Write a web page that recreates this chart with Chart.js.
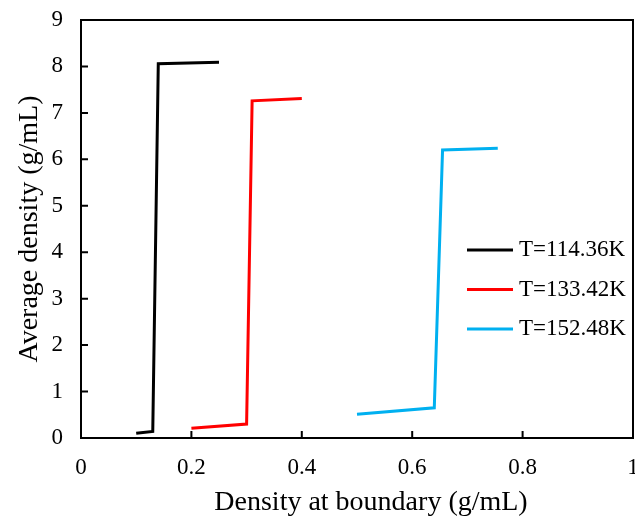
<!DOCTYPE html>
<html>
<head>
<meta charset="utf-8">
<script src="https://cdn.jsdelivr.net/npm/chart.js@4"></script>
<style>
  html, body { margin: 0; padding: 0; background: #fff; }
  #wrap { width: 635px; height: 521px; }
</style>
</head>
<body>
<div id="wrap"><canvas id="densityChart" width="635" height="521"></canvas></div>
<script>
// series: density at boundary (x) vs average density (y)
const seriesLabels = ['T=114.36K', 'T=133.42K', 'T=152.48K'];
const seriesColors = ['#000000', '#ff0000', '#00b0f0'];
const xT114 = [0.10, 0.13, 0.14, 0.25];
const yT114 = [0.10, 0.14, 8.06, 8.09];
const xT133 = [0.20, 0.30, 0.31, 0.40];
const yT133 = [0.21, 0.30, 7.26, 7.31];
const xT152 = [0.50, 0.64, 0.655, 0.755];
const yT152 = [0.51, 0.65, 6.20, 6.24];
const xTicks = [0, 0.2, 0.4, 0.6, 0.8, 1];
const yTicks = [0, 1, 2, 3, 4, 5, 6, 7, 8, 9];
const xTitle = 'Density at boundary (g/mL)';
const yTitle = 'Average density (g/mL)';

const serif = "'Liberation Serif', 'Times New Roman', serif";

function toPoints(xs, ys) {
    return xs.map(function (x, i) { return { x: x, y: ys[i] }; });
}

const allX = [xT114, xT133, xT152];
const allY = [yT114, yT133, yT152];

// frame, inward ticks, x title and legend inside the plot
const framePlugin = {
    id: 'frame',
    afterDraw: function (chart) {
        const ctx = chart.ctx;
        const a = chart.chartArea;
        const xs = chart.scales.x;
        const ys = chart.scales.y;
        ctx.save();
        ctx.strokeStyle = '#000';
        ctx.lineWidth = 2;
        ctx.strokeRect(a.left, a.top, a.right - a.left, a.bottom - a.top);
        ctx.beginPath();
        xTicks.forEach(function (v) {
            const px = xs.getPixelForValue(v);
            ctx.moveTo(px, a.bottom);
            ctx.lineTo(px, a.bottom - 7);
        });
        yTicks.forEach(function (v) {
            const py = ys.getPixelForValue(v);
            ctx.moveTo(a.left, py);
            ctx.lineTo(a.left + 7, py);
        });
        ctx.stroke();

        // x axis title, a bit right of centre as in the figure
        ctx.fillStyle = '#000';
        ctx.font = '28px ' + serif;
        ctx.textAlign = 'center';
        ctx.textBaseline = 'middle';
        ctx.fillText(xTitle, 371, 503);

        // legend
        ctx.font = '23px ' + serif;
        ctx.textAlign = 'left';
        ctx.lineWidth = 3;
        seriesLabels.forEach(function (lab, i) {
            const y = 250 + i * 39.5;
            ctx.strokeStyle = seriesColors[i];
            ctx.beginPath();
            ctx.moveTo(467, y);
            ctx.lineTo(513, y);
            ctx.stroke();
            ctx.fillText(lab, 519, y);
        });
        ctx.restore();
    }
};

new Chart(document.getElementById('densityChart').getContext('2d'), {
    type: 'scatter',
    data: {
        datasets: seriesLabels.map(function (lab, i) {
            return {
                label: lab,
                data: toPoints(allX[i], allY[i]),
                showLine: true,
                borderColor: seriesColors[i],
                backgroundColor: seriesColors[i],
                borderWidth: 3,
                pointRadius: 0,
                tension: 0
            };
        })
    },
    options: {
        responsive: false,
        animation: false,
        layout: { padding: { top: 20, right: 2, bottom: 0, left: 0 } },
        scales: {
            x: {
                type: 'linear',
                min: 0,
                max: 1,
                afterFit: function (s) { s.height = 83; s.paddingLeft = 0; s.paddingRight = 0; },
                afterBuildTicks: function (s) { s.ticks = xTicks.map(function (v) { return { value: v }; }); },
                grid: { display: false, drawTicks: false },
                border: { display: false },
                ticks: {
                    color: '#000',
                    padding: 16,
                    maxRotation: 0,
                    font: { family: serif, size: 23 },
                    callback: function (v) { return String(v); }
                },
                title: { display: false, text: xTitle }
            },
            y: {
                type: 'linear',
                min: 0,
                max: 9,
                afterFit: function (s) { s.width = 81; s.paddingTop = 0; s.paddingBottom = 0; },
                afterBuildTicks: function (s) { s.ticks = yTicks.map(function (v) { return { value: v }; }); },
                grid: { display: false, drawTicks: false },
                border: { display: false },
                ticks: {
                    color: '#000',
                    padding: 18,
                    font: { family: serif, size: 23 },
                    callback: function (v) { return String(v); }
                },
                title: {
                    display: true,
                    text: yTitle,
                    color: '#000',
                    font: { family: serif, size: 28 },
                    padding: { top: 13, bottom: 0 }
                }
            }
        },
        plugins: {
            legend: { display: false },
            tooltip: { enabled: false }
        }
    },
    plugins: [framePlugin]
});
</script>
</body>
</html>
